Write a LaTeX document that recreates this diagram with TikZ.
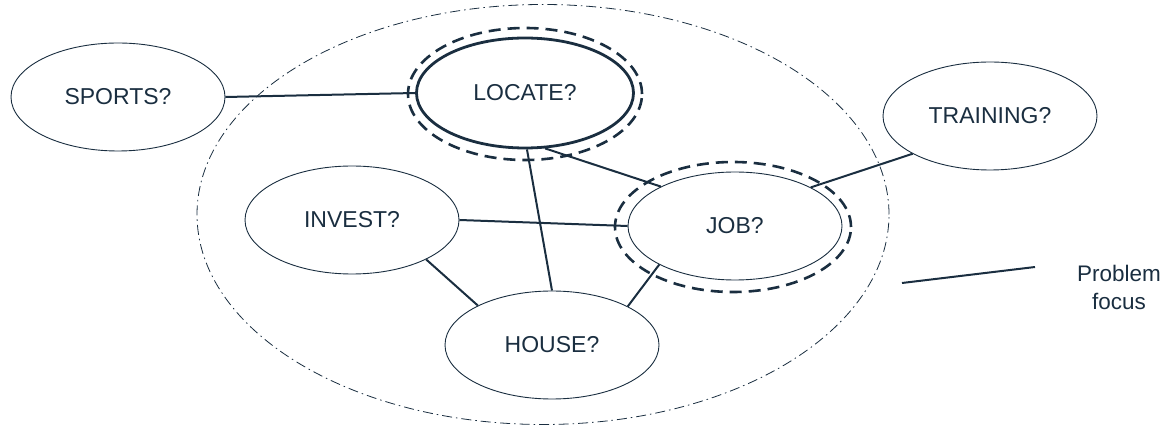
\documentclass[tikz,border=0pt]{standalone}
\usepackage{fontspec}
\setmainfont{Liberation Sans}
\usetikzlibrary{shapes.geometric}
\definecolor{navy}{RGB}{26,46,64}

\begin{document}
\begin{tikzpicture}[x=1pt,y=-1pt,line join=round,
    topic/.style={ellipse, draw=navy, line width=0.9pt, inner sep=0pt,
        minimum width=214pt, minimum height=108pt, text=navy,
        font=\fontsize{23}{27}\selectfont},
    link/.style={draw=navy, line width=2pt},
    focus/.style={draw=navy, line width=2.6pt, dash pattern=on 12pt off 7pt},
    scope line/.style={draw=navy, line width=0.8pt, dash pattern=on 10pt off 4pt on 1.5pt off 4pt}]
    \useasboundingbox (0,0) rectangle (1167,427);

    \coordinate (C1) at (118, 97);
    \coordinate (C2) at (525, 93);
    \coordinate (C3) at (990, 116);
    \coordinate (C4) at (352, 220);
    \coordinate (C5) at (735, 226);
    \coordinate (C6) at (552, 345);
    \coordinate (F1) at (902, 283);
    \coordinate (F2) at (1035, 267);

    % problem area
    \draw[scope line] (543, 214.5) ellipse [x radius=346pt, y radius=210pt];

    \node[topic] (sports) at (C1) {SPORTS?};
    \node[topic, line width=2.8pt, minimum width=217pt, minimum height=110pt] (locate) at (C2) {LOCATE?};
    \node[topic] (training) at (C3) {TRAINING?};
    \node[topic] (invest) at (C4) {INVEST?};
    \node[topic] (job) at (C5) {JOB?};
    \node[topic] (house) at (C6) {HOUSE?};

    \draw[focus] (525, 94) ellipse [x radius=117pt, y radius=66pt];
    \draw[focus] (733, 227) ellipse [x radius=118pt, y radius=65pt];

    \draw[link] (sports.east) -- (locate.west);
    \draw[link] (locate.-70) -- (job.152);
    \draw[link] (locate.-88) -- (house.90);
    \draw[link] (invest.east) -- (job.west);
    \draw[link] (invest.-28) -- (house.152);
    \draw[link] (job.-153) -- (house.27);
    \draw[link] (training.-154) -- (job.27);

    % legend
    \draw[link] (F1) -- (F2);
    \node[text=navy, align=center, font=\fontsize{22.5}{28}\selectfont] (legend) at (1119, 287) {Problem\\focus};
\end{tikzpicture}
\end{document}
